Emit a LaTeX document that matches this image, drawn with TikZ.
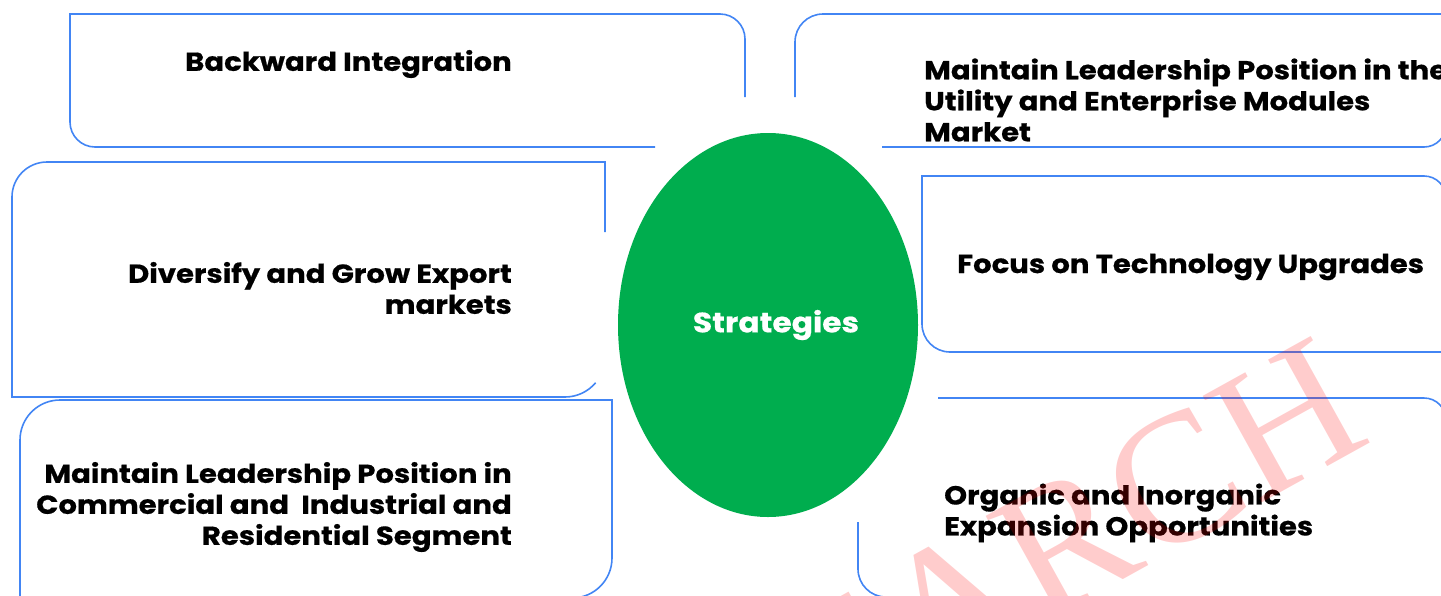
\documentclass[tikz,border=0pt]{standalone}
\usepackage{fontspec}
\setmainfont{Poppins}[BoldFeatures={FakeStretch=1.12,FakeBold=0.6}]
\newfontfamily\wmfont{Liberation Serif}
\usetikzlibrary{shapes.geometric}
\definecolor{edgeblue}{RGB}{66,133,244}
\definecolor{stratgreen}{RGB}{0,173,78}
\tikzset{box/.style={draw=edgeblue,line width=1.6pt},
  txt/.style={inner sep=0pt,font=\fontsize{26}{31}\selectfont\bfseries},
  hub/.style={ellipse,fill=stratgreen,minimum width=300pt,minimum height=384pt,inner sep=0pt,text=white,font=\fontsize{28}{31}\selectfont\bfseries},
  wmtext/.style={text=red,opacity=0.2,inner sep=0pt,font=\fontsize{186}{186}\selectfont\wmfont}}

\begin{document}
\begin{tikzpicture}[x=1pt,y=-1pt]
\useasboundingbox (0,0) rectangle (1441,595);
\clip (0,0) rectangle (1441,595);

% outlines, broken where they meet the hub
\draw[box] (745,97) -- (745,39) arc[start angle=0,end angle=-90,radius=25] -- (70,14) -- (70,122) arc[start angle=180,end angle=90,radius=25] -- (655,147);
\draw[box] (795,97) -- (795,42) arc[start angle=180,end angle=270,radius=28] -- (1446,14);
\draw[box] (882,147) -- (1424,147) arc[start angle=90,end angle=0,radius=22] -- (1446,14);
\draw[box] (605,232) -- (605,162) -- (47,162) arc[start angle=270,end angle=180,radius=35] -- (12,397) -- (565,397) arc[start angle=90,end angle=40,radius=40];
\draw[box] (1446,360) -- (1446,198) arc[start angle=0,end angle=-90,radius=22] -- (922,176) -- (922,324) arc[start angle=180,end angle=90,radius=28] -- (1446,352);
\draw[box] (20,600) -- (20,440) arc[start angle=180,end angle=270,radius=40] -- (612,400) -- (612,558) arc[start angle=0,end angle=90,radius=40] -- (20,598);
\draw[box] (938,398) -- (1424,398) arc[start angle=-90,end angle=0,radius=22] -- (1446,600);
\draw[box] (858,522) -- (858,569) arc[start angle=180,end angle=90,radius=28] -- (1446,597);

\node[hub] (strat) at (768,325) {\hspace*{16pt}Strategies};

\node[txt,anchor=west] (bkw) at (185,64) {Backward Integration};
\node[txt,anchor=west,align=left] (util) at (924,100) {Maintain Leadership Position in the\\Utility and Enterprise Modules\\Market};
\node[txt,anchor=east,align=right] (export) at (512,288) {Diversify and Grow Export\\markets};
\node[txt,anchor=west] (tech) at (957,267) {Focus on Technology Upgrades};
\node[txt,anchor=east,align=right] (comm) at (512,507) {Maintain Leadership Position in\\Commercial and\ \ Industrial and\\Residential Segment};
\node[txt,anchor=west,align=left] (organic) at (944,513) {Organic and Inorganic\\Expansion Opportunities};

\node[wmtext,rotate=29] (wm) at (1070,540) {EARCH};
\end{tikzpicture}
\end{document}
